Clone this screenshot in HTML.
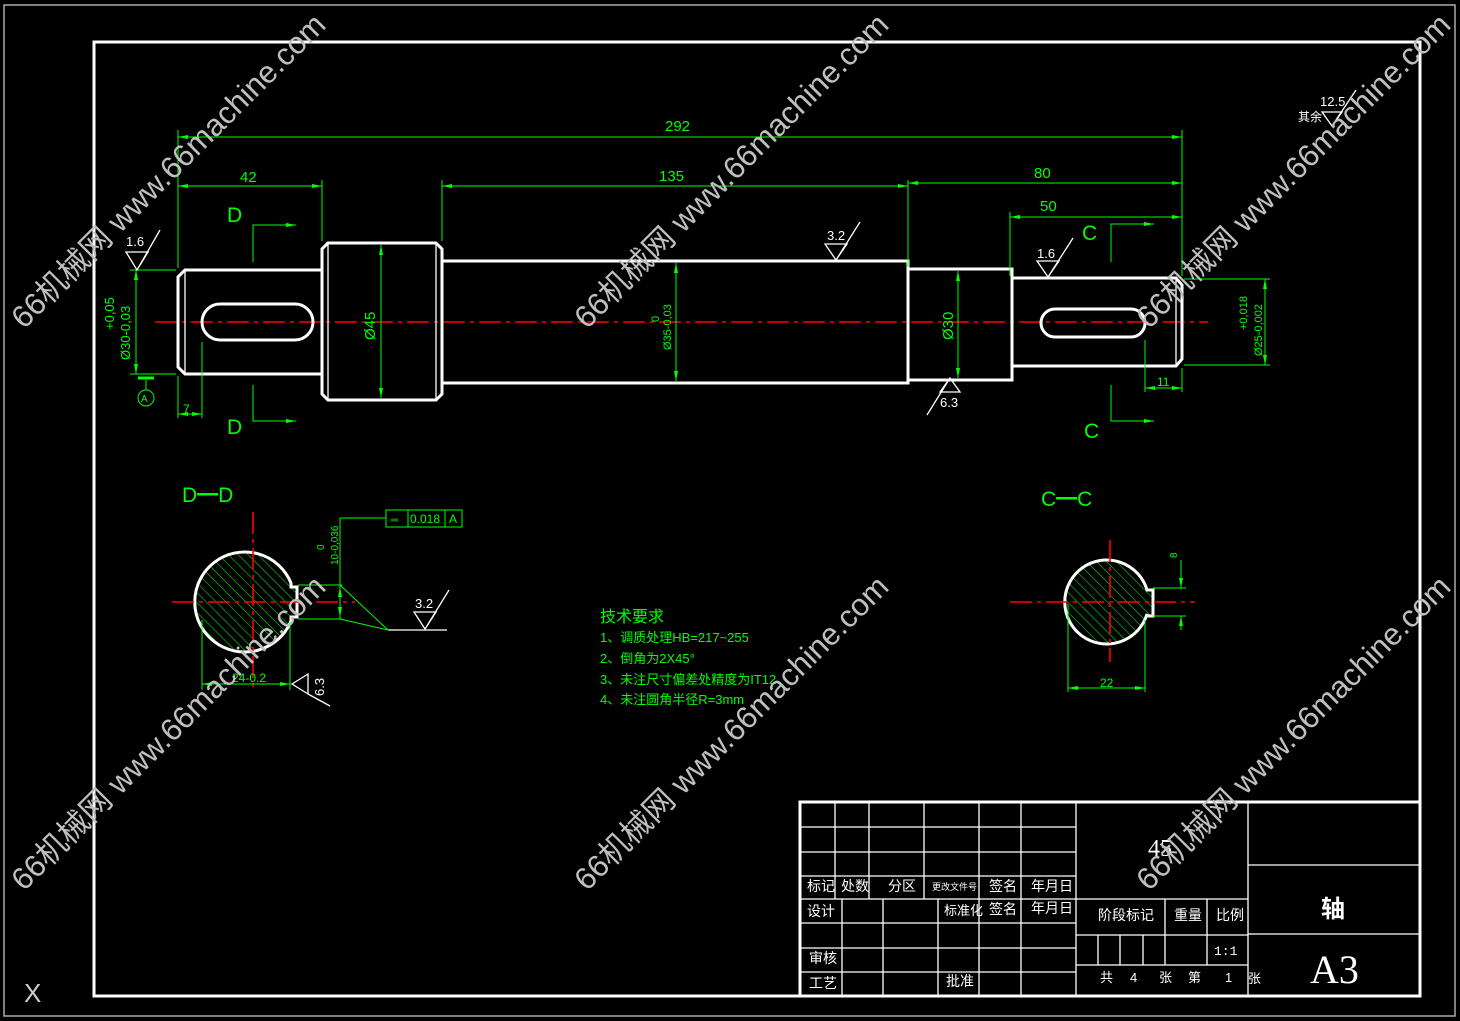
<!DOCTYPE html>
<html><head><meta charset="utf-8"><style>
html,body{margin:0;padding:0;background:#000;}
svg{display:block;}
text{font-family:"Liberation Sans","Noto Sans CJK SC",sans-serif;}
.g{stroke:#00ff00;stroke-width:1;fill:none;}
.gt{fill:#00ff00;}
.w{stroke:#fff;stroke-width:3;fill:none;}
.tw{stroke:#fff;stroke-width:1.3;fill:none;}
.r{stroke:#ff0000;stroke-width:1.6;stroke-dasharray:22,5,4,5;fill:none;}
.wm{fill:#bfbfbf;font-size:31px;}
.tb{fill:#fff;font-size:14px;}
</style></head><body>
<svg width="1460" height="1021" viewBox="0 0 1460 1021" xmlns="http://www.w3.org/2000/svg">
<defs>
<marker id="a" markerWidth="10" markerHeight="6" refX="10" refY="3" orient="auto-start-reverse" markerUnits="userSpaceOnUse"><path d="M0,1 L10,3 L0,5z" fill="#00ff00"/></marker>
<pattern id="h" width="7" height="7" patternUnits="userSpaceOnUse" patternTransform="rotate(-45)"><line x1="0" y1="0" x2="0" y2="7" stroke="#00ff00" stroke-width="1"/></pattern>
</defs>
<rect x="4" y="5" width="1451" height="1011" fill="none" stroke="#aaa" stroke-width="1.5"/>
<rect x="94" y="42" width="1326" height="954" fill="none" stroke="#fff" stroke-width="3"/>

<line class="r" x1="155" y1="322" x2="1208" y2="322"/>

<path class="w" d="M185,270 L322,270 L322,374 L185,374 L178,367 L178,277 Z"/>
<line class="tw" x1="185" y1="270" x2="185" y2="374"/>
<path class="w" d="M328,243 L436,243 L442,249 L442,394 L436,400 L328,400 L322,394 L322,249 Z"/>
<line class="tw" x1="328" y1="243" x2="328" y2="400"/><line class="tw" x1="436" y1="243" x2="436" y2="400"/>
<rect class="w" x="442" y="261" width="466" height="122"/>
<rect class="w" x="908" y="269" width="104" height="111"/>
<path class="w" d="M1012,278 L1176,278 L1182,285 L1182,359 L1176,366 L1012,366 Z"/>
<line class="tw" x1="1176" y1="278" x2="1176" y2="366"/>
<rect class="w" x="202" y="304" width="111" height="36" rx="18"/>
<rect class="w" x="1041" y="309" width="104" height="28" rx="14"/>

<g class="g">
<line x1="178" y1="130" x2="178" y2="268"/><line x1="1182" y1="130" x2="1182" y2="276"/>
<line x1="178" y1="137" x2="1182" y2="137" marker-start="url(#a)" marker-end="url(#a)"/>
<line x1="322" y1="180" x2="322" y2="241"/>
<line x1="178" y1="186" x2="322" y2="186" marker-start="url(#a)" marker-end="url(#a)"/>
<line x1="442" y1="180" x2="442" y2="241"/><line x1="908" y1="180" x2="908" y2="267"/>
<line x1="442" y1="186" x2="908" y2="186" marker-start="url(#a)" marker-end="url(#a)"/>
<line x1="908" y1="183" x2="1182" y2="183" marker-start="url(#a)" marker-end="url(#a)"/>
<line x1="1010" y1="212" x2="1010" y2="276"/>
<line x1="1010" y1="217" x2="1182" y2="217" marker-start="url(#a)" marker-end="url(#a)"/>
<line x1="381" y1="245" x2="381" y2="398" marker-start="url(#a)" marker-end="url(#a)"/>
<line x1="676" y1="263" x2="676" y2="381" marker-start="url(#a)" marker-end="url(#a)"/>
<line x1="958" y1="271" x2="958" y2="378" marker-start="url(#a)" marker-end="url(#a)"/>
<line x1="130" y1="270" x2="176" y2="270"/><line x1="130" y1="374" x2="176" y2="374"/>
<line x1="136" y1="270" x2="136" y2="374" marker-start="url(#a)" marker-end="url(#a)"/>
<line x1="1184" y1="279" x2="1270" y2="279"/><line x1="1184" y1="365" x2="1270" y2="365"/>
<line x1="1265" y1="279" x2="1265" y2="365" marker-start="url(#a)" marker-end="url(#a)"/>
<line x1="1145" y1="340" x2="1145" y2="392"/><line x1="1182" y1="368" x2="1182" y2="392"/>
<line x1="1145" y1="388" x2="1182" y2="388" marker-start="url(#a)" marker-end="url(#a)"/>
<line x1="178" y1="376" x2="178" y2="418"/><line x1="202" y1="342" x2="202" y2="418"/>
<line x1="178" y1="414" x2="202" y2="414" marker-start="url(#a)" marker-end="url(#a)"/>
<line x1="138" y1="378" x2="154" y2="378" stroke-width="3"/>
<circle cx="146" cy="398" r="8"/><line x1="146" y1="380" x2="146" y2="390"/>
<polyline points="253,262 253,225 296,225" marker-end="url(#a)"/>
<polyline points="253,385 253,421 296,421" marker-end="url(#a)"/>
<polyline points="1111,262 1111,224 1154,224" marker-end="url(#a)"/>
<polyline points="1111,385 1111,421 1154,421" marker-end="url(#a)"/>
</g>
<g class="gt" font-size="15">
<text x="665" y="131">292</text><text x="240" y="182">42</text><text x="659" y="181">135</text>
<text x="1034" y="178">80</text><text x="1040" y="211">50</text>
<text x="1157" y="386" font-size="12">11</text><text x="183" y="413" font-size="12">7</text>
<text x="227" y="222" font-size="21">D</text><text x="227" y="434" font-size="21">D</text>
<text x="1082" y="240" font-size="21">C</text><text x="1084" y="438" font-size="21">C</text>
<text transform="translate(375,340) rotate(-90)">Ø45</text>
<text transform="translate(953,340) rotate(-90)">Ø30</text>
<text transform="translate(659,322) rotate(-90)" font-size="11">0</text>
<text transform="translate(671,350) rotate(-90)" font-size="11">Ø35-0,03</text>
<text transform="translate(114,330) rotate(-90)" font-size="13">+0,05</text>
<text transform="translate(130,360) rotate(-90)" font-size="13">Ø30-0,03</text>
<text transform="translate(1247,330) rotate(-90)" font-size="11">+0,018</text>
<text transform="translate(1262,356) rotate(-90)" font-size="11">Ø25-0,002</text>
<text x="141" y="402" font-size="10">A</text>
</g>

<g class="tw" stroke-width="1">
<path d="M126,252 L148,252 L137,270 Z M137,270 L160,230"/>
<path d="M1037,261 L1059,261 L1048,277 Z M1048,277 L1073,238"/>
<path d="M825,244 L847,244 L836,260 Z M836,260 L860,222"/>
<path d="M940,392 L960,392 L950,378 Z M950,378 L927,415"/>
<path d="M1322,112 L1342,112 L1332,126 Z M1332,126 L1356,90"/>
<path d="M414,612 L436,612 L425,629 Z M425,629 L449,590 M388,630 L447,630"/>
<path d="M292,684 L308,674 L308,694 Z M308,694 L330,706"/>
</g>
<g fill="#fff" font-size="13">
<text x="126" y="246">1.6</text><text x="1037" y="258">1.6</text><text x="827" y="240">3.2</text>
<text x="940" y="407">6.3</text><text x="1320" y="106">12.5</text><text x="1298" y="121" font-size="12">其余</text>
<text x="415" y="608">3.2</text><text transform="translate(324,696) rotate(-90)">6.3</text>
</g>

<text x="182" y="502" class="gt" font-size="21">D━D</text>
<path d="M291,583 A50,50 0 1 0 291,621 L291,617 L297,617 L297,587 L291,587 Z" fill="url(#h)" stroke="#fff" stroke-width="3"/>
<line class="r" x1="172" y1="602" x2="355" y2="602"/><line class="r" x1="253" y1="512" x2="253" y2="692"/>
<g class="g">
<line x1="298" y1="585" x2="342" y2="585"/><line x1="298" y1="619" x2="342" y2="619"/>
<line x1="340" y1="518" x2="340" y2="619"/><line x1="340" y1="518" x2="386" y2="518"/>
<line x1="340" y1="587" x2="340" y2="617" marker-start="url(#a)" marker-end="url(#a)"/>
<polyline points="340,585 388,630 340,619"/>
<rect x="386" y="510" width="76" height="17"/><line x1="408" y1="510" x2="408" y2="527"/><line x1="445" y1="510" x2="445" y2="527"/>
<line x1="202" y1="620" x2="202" y2="690"/><line x1="290" y1="622" x2="290" y2="690"/>
<line x1="202" y1="684" x2="290" y2="684" marker-start="url(#a)" marker-end="url(#a)"/>
</g>
<g class="gt" font-size="12">
<text x="410" y="523">0.018</text><text x="449" y="523">A</text>
<text x="391" y="523" font-size="10">═</text>
<text transform="translate(324,550) rotate(-90)" font-size="10">0</text>
<text transform="translate(338,565) rotate(-90)" font-size="10">10-0,036</text>
<text x="232" y="682">24-0.2</text>
</g>

<text x="1041" y="506" class="gt" font-size="21">C━C</text>
<path d="M1147,590 A42,42 0 1 0 1147,614 L1147,616 L1153,616 L1153,590 Z" fill="url(#h)" stroke="#fff" stroke-width="3"/>
<line class="r" x1="1010" y1="602" x2="1195" y2="602"/><line class="r" x1="1110" y1="540" x2="1110" y2="662"/>
<g class="g">
<line x1="1153" y1="588" x2="1186" y2="588"/><line x1="1153" y1="616" x2="1186" y2="616"/>
<line x1="1181" y1="560" x2="1181" y2="588" marker-end="url(#a)"/><line x1="1181" y1="630" x2="1181" y2="616" marker-end="url(#a)"/>
<line x1="1068" y1="604" x2="1068" y2="692"/><line x1="1145" y1="620" x2="1145" y2="692"/>
<line x1="1068" y1="688" x2="1145" y2="688" marker-start="url(#a)" marker-end="url(#a)"/>
</g>
<text x="1100" y="687" class="gt" font-size="12">22</text>
<text transform="translate(1177,558) rotate(-90)" class="gt" font-size="10">8</text>

<g class="gt" font-size="13">
<text x="600" y="622" font-size="16">技术要求</text>
<text x="600" y="642">1、调质处理HB=217~255</text>
<text x="600" y="663">2、倒角为2X45°</text>
<text x="600" y="684">3、未注尺寸偏差处精度为IT12</text>
<text x="600" y="704">4、未注圆角半径R=3mm</text>
</g>

<g stroke="#fff" stroke-width="1.3" fill="none">
<rect x="800" y="802" width="620" height="194" stroke-width="3"/>
<line x1="800" y1="827" x2="1076" y2="827"/><line x1="800" y1="852" x2="1076" y2="852"/>
<line x1="800" y1="876" x2="1076" y2="876"/><line x1="800" y1="899" x2="1248" y2="899"/>
<line x1="800" y1="923" x2="1076" y2="923"/><line x1="800" y1="948" x2="1076" y2="948"/>
<line x1="800" y1="972" x2="1076" y2="972"/>
<line x1="835" y1="802" x2="835" y2="899"/><line x1="869" y1="802" x2="869" y2="899"/>
<line x1="924" y1="802" x2="924" y2="899"/><line x1="979" y1="802" x2="979" y2="996"/>
<line x1="1021" y1="802" x2="1021" y2="996"/><line x1="1076" y1="802" x2="1076" y2="996"/>
<line x1="842" y1="899" x2="842" y2="996"/><line x1="883" y1="899" x2="883" y2="996"/>
<line x1="938" y1="899" x2="938" y2="996"/>
<line x1="1076" y1="935" x2="1248" y2="935"/><line x1="1076" y1="965" x2="1248" y2="965"/>
<line x1="1165" y1="899" x2="1165" y2="965"/><line x1="1207" y1="899" x2="1207" y2="965"/>
<line x1="1098" y1="935" x2="1098" y2="965"/><line x1="1120" y1="935" x2="1120" y2="965"/><line x1="1143" y1="935" x2="1143" y2="965"/>
<line x1="1248" y1="802" x2="1248" y2="996"/>
<line x1="1248" y1="865" x2="1420" y2="865"/><line x1="1248" y1="934" x2="1420" y2="934"/>
</g>
<g class="tb">
<text x="807" y="891">标记</text><text x="841" y="891">处数</text><text x="888" y="891">分区</text>
<text x="932" y="890" font-size="9">更改文件号</text><text x="989" y="891">签名</text><text x="1031" y="891">年月日</text>
<text x="807" y="916">设计</text><text x="944" y="915" font-size="13">标准化</text><text x="989" y="914">签名</text><text x="1031" y="913">年月日</text>
<text x="809" y="963">审核</text><text x="809" y="988">工艺</text><text x="946" y="986">批准</text>
<text x="1098" y="920">阶段标记</text><text x="1174" y="920">重量</text><text x="1216" y="920">比例</text>
<text x="1214" y="955" font-size="13" style="font-family:'Liberation Mono',monospace">1:1</text>
<text x="1100" y="982" font-size="13">共</text><text x="1130" y="982" font-size="13">4</text>
<text x="1159" y="982" font-size="13">张</text><text x="1188" y="982" font-size="13">第</text>
<text x="1225" y="982" font-size="13">1</text>
<text x="1248" y="983" font-size="13">张</text>
<text x="1148" y="856" font-size="24" style="font-family:'Liberation Serif',serif">45</text>
<text x="1321" y="917" font-size="24" font-weight="bold">轴</text>
<text x="1310" y="983" font-size="40" style="font-family:'Liberation Serif',serif">A3</text>
</g>
<text x="24" y="1002" fill="#ccc" font-size="26">X</text>

<g class="wm">
<text transform="translate(24,330) rotate(-45)">66机械网 www.66machine.com</text>
<text transform="translate(587,330) rotate(-45)">66机械网 www.66machine.com</text>
<text transform="translate(1149,330) rotate(-45)">66机械网 www.66machine.com</text>
<text transform="translate(24,892) rotate(-45)">66机械网 www.66machine.com</text>
<text transform="translate(587,892) rotate(-45)">66机械网 www.66machine.com</text>
<text transform="translate(1149,892) rotate(-45)">66机械网 www.66machine.com</text>
</g>
</svg>
</body></html>
